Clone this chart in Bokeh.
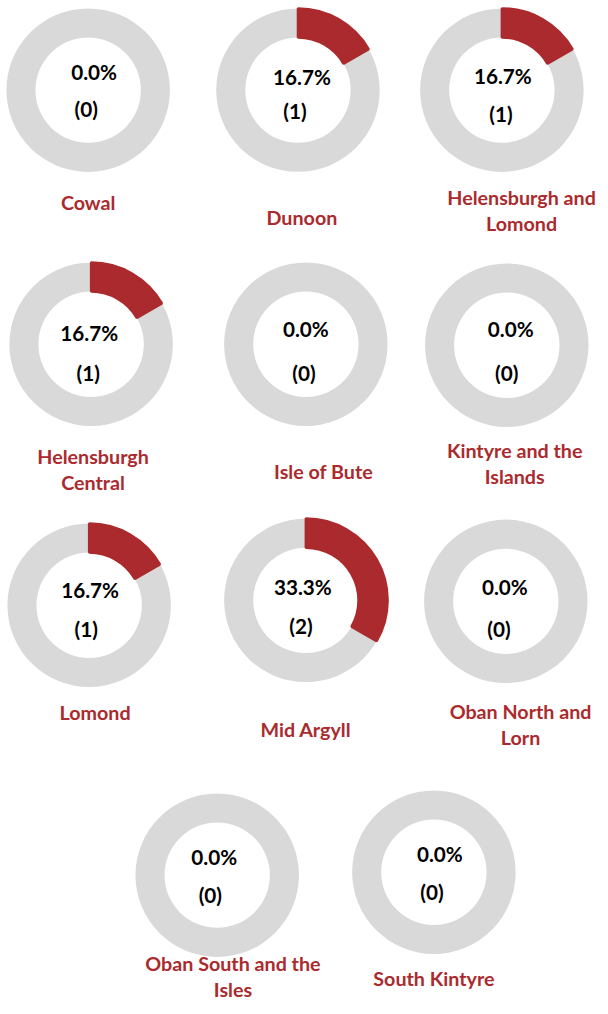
import math
from bokeh.plotting import figure
from bokeh.models import ColumnDataSource, Range1d
from bokeh.core.properties import value
from bokeh.embed import file_html
from bokeh.resources import INLINE

# ---------------- data ----------------
areas = ["Cowal", "Dunoon", "Helensburgh and\nLomond", "Helensburgh\nCentral",
         "Isle of Bute", "Kintyre and the\nIslands", "Lomond", "Mid Argyll",
         "Oban North and\nLorn", "Oban South and the\nIsles", "South Kintyre"]
counts = [0, 1, 1, 1, 0, 0, 1, 2, 0, 0, 0]
pcts = [0.0, 16.7, 16.7, 16.7, 0.0, 0.0, 16.7, 33.3, 0.0, 0.0, 0.0]

# ---------------- layout (reference pixel coordinates) ----------------
cx = [89, 302, 509, 92, 310, 514, 90, 310, 513, 220, 440]
cy = [91, 91, 91, 349, 349, 350, 614, 609, 610, 888, 885]
pct_dx = [6, 4, 1, -2, 0, 4, 1, -3, -1, -3, 6]
pct_dy = [-18, -13, -14, -11, -16, -17, -16, -14, -15, -18, -18]
cnt_dx = [-2, -3, -1, -3, -2, 0, -3, -5, -7, -7, -2]
cnt_dy = [19, 21, 24, 29, 29, 28, 24, 26, 28, 20, 20]
lab_x = [89, 306, 529, 94, 328, 522, 96, 310, 528, 236, 440]
lab_y = [205, 220, 200, 463, 478, 457, 723, 740, 722, 978, 993]
LINE_H = 26.5
R_OUT, R_IN = 83, 53.5
W, H = 600, 1006
S = 0.985                       # uniform scale so the 608x1014 design fits
XR, YR = W / S, H / S
RED = "#AB2A2D"
GREY = "#D9D9D9"


def Y(y):
    return YR - y


p = figure(width=W, height=H, output_backend="svg", toolbar_location=None,
           x_range=Range1d(0, XR), y_range=Range1d(0, YR),
           min_border=0)
p.axis.visible = False
p.grid.visible = False
p.outline_line_color = None
p.background_fill_color = "white"
p.border_fill_color = "white"

# grey full rings
ring = ColumnDataSource(dict(x=cx, y=[Y(v) for v in cy]))
p.annulus(x="x", y="y", inner_radius=R_IN, outer_radius=R_OUT, source=ring,
          fill_color=GREY, line_color=None)

# red slices (share of total)
total = sum(counts)
wx, wy, ws, we = [], [], [], []
for i, c in enumerate(counts):
    if c <= 0:
        continue
    frac = c / total
    wx.append(cx[i])
    wy.append(Y(cy[i]))
    ws.append(math.pi / 2)
    we.append(math.pi / 2 - 2 * math.pi * frac)
wsrc = ColumnDataSource(dict(x=wx, y=wy, s=ws, e=we))
p.annular_wedge(x="x", y="y", inner_radius=R_IN, outer_radius=R_OUT,
                start_angle="s", end_angle="e", direction="clock", source=wsrc,
                fill_color=RED, line_color=RED, line_width=2.5)

FS_NUM = f"{21 * S:.1f}px"
FS_LAB = f"{20 * S:.1f}px"

# centre texts
tsrc = ColumnDataSource(dict(
    x=[cx[i] + pct_dx[i] for i in range(len(areas))],
    y=[Y(cy[i] + pct_dy[i]) for i in range(len(areas))],
    t=[f"{v:.1f}%" for v in pcts]))
p.text(x="x", y="y", text="t", source=tsrc, text_font=value("Lato"),
       text_font_style="bold", text_font_size=FS_NUM, text_color="black",
       text_align="center", text_baseline="middle")
csrc = ColumnDataSource(dict(
    x=[cx[i] + cnt_dx[i] for i in range(len(areas))],
    y=[Y(cy[i] + cnt_dy[i]) for i in range(len(areas))],
    t=[f"({c})" for c in counts]))
p.text(x="x", y="y", text="t", source=csrc, text_font=value("Lato"),
       text_font_style="bold", text_font_size=FS_NUM, text_color="black",
       text_align="center", text_baseline="middle")

# area labels
lx, ly, lt = [], [], []
for i, name in enumerate(areas):
    for k, line in enumerate(name.split("\n")):
        lx.append(lab_x[i])
        ly.append(Y(lab_y[i] + k * LINE_H))
        lt.append(line)
lsrc = ColumnDataSource(dict(x=lx, y=ly, t=lt))
p.text(x="x", y="y", text="t", source=lsrc, text_font=value("Lato"),
       text_font_style="bold", text_font_size=FS_LAB, text_color=RED,
       text_align="center", text_baseline="middle")

open("out.html", "w").write(file_html(p, INLINE))
